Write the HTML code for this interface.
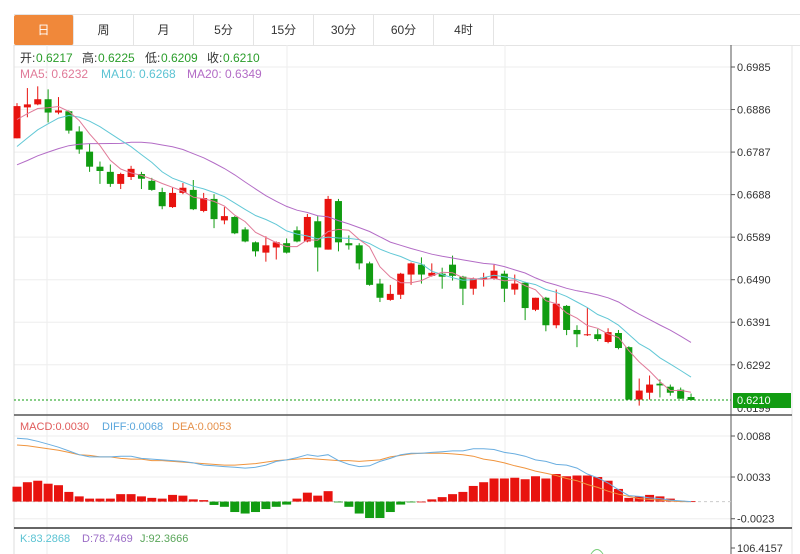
<!DOCTYPE html>
<html><head><meta charset="utf-8">
<style>
body{margin:0;background:#fff;width:800px;height:554px;overflow:hidden;font-family:"Liberation Sans","Noto Sans CJK SC",sans-serif;}
#wrap{position:relative;width:800px;height:554px;}
.tabs{position:absolute;left:14px;top:14px;height:30px;width:786px;border-top:1px solid #e4e4e4;border-bottom:1px solid #e4e4e4;}
.tab{position:absolute;top:0;height:30px;width:60px;line-height:30px;text-align:center;font-size:12px;color:#333;border-right:1px solid #e4e4e4;box-sizing:border-box;}
.tab.active{background:#f0883a;color:#fff;border-radius:2px;}
</style></head><body>
<div id="wrap">
<div class="tabs">
<div class="tab active" style="left:0">日</div>
<div class="tab" style="left:60px">周</div>
<div class="tab" style="left:120px">月</div>
<div class="tab" style="left:180px">5分</div>
<div class="tab" style="left:240px">15分</div>
<div class="tab" style="left:300px">30分</div>
<div class="tab" style="left:360px">60分</div>
<div class="tab" style="left:420px">4时</div>
</div>
<svg id="chart" width="800" height="554" style="position:absolute;left:0;top:0"></svg>
</div>
<script>
const opens=[0.6819,0.6891,0.6898,0.6910,0.6879,0.6882,0.6835,0.6788,0.6753,0.6741,0.6713,0.6729,0.6736,0.6720,0.6694,0.6659,0.6692,0.6699,0.6650,0.6678,0.6628,0.6636,0.6607,0.6577,0.6553,0.6565,0.6575,0.6605,0.6579,0.6626,0.6560,0.6673,0.6575,0.6570,0.6528,0.6481,0.6443,0.6455,0.6502,0.6525,0.6499,0.6504,0.6525,0.6497,0.6469,0.6492,0.6492,0.6504,0.6467,0.6483,0.6420,0.6448,0.6384,0.6429,0.6373,0.6361,0.6363,0.6345,0.6366,0.6333,0.6211,0.6227,0.6248,0.6241,0.6234,0.6217];
const highs=[0.6901,0.6936,0.6940,0.6933,0.6915,0.6884,0.6847,0.6807,0.6765,0.6758,0.6739,0.6755,0.6741,0.6727,0.6704,0.6704,0.6715,0.6722,0.6692,0.6689,0.6659,0.6638,0.6612,0.6579,0.6591,0.6579,0.6586,0.6614,0.6643,0.6638,0.6685,0.6678,0.6593,0.6575,0.6532,0.6492,0.6478,0.6506,0.6530,0.6542,0.6528,0.6518,0.6546,0.6499,0.6495,0.6506,0.6525,0.6511,0.6502,0.6485,0.6448,0.6450,0.6467,0.6431,0.6384,0.6424,0.6375,0.6377,0.6373,0.6335,0.6260,0.6267,0.6258,0.6246,0.6239,0.6225];
const lows=[0.6819,0.6868,0.6896,0.6856,0.6875,0.6830,0.6783,0.6741,0.6713,0.6706,0.6701,0.6722,0.6701,0.6697,0.6654,0.6657,0.6689,0.6652,0.6647,0.6610,0.6619,0.6596,0.6577,0.6544,0.6532,0.6537,0.6551,0.6577,0.6577,0.6509,0.6560,0.6556,0.6560,0.6514,0.6476,0.6438,0.6441,0.6445,0.6478,0.6481,0.6497,0.6469,0.6488,0.6431,0.6455,0.6474,0.6490,0.6438,0.6455,0.6396,0.6417,0.6370,0.6377,0.6361,0.6333,0.6359,0.6347,0.6342,0.6328,0.6211,0.6197,0.6211,0.6216,0.6220,0.6213,0.6209];
const closes=[0.6894,0.6898,0.6910,0.6879,0.6884,0.6837,0.6793,0.6753,0.6743,0.6713,0.6736,0.6748,0.6725,0.6699,0.6661,0.6692,0.6704,0.6654,0.6680,0.6631,0.6638,0.6598,0.6579,0.6556,0.6570,0.6577,0.6553,0.6579,0.6636,0.6565,0.6678,0.6577,0.6570,0.6528,0.6478,0.6448,0.6457,0.6504,0.6528,0.6502,0.6506,0.6497,0.6499,0.6469,0.6492,0.6495,0.6511,0.6469,0.6481,0.6424,0.6448,0.6384,0.6434,0.6373,0.6363,0.6363,0.6352,0.6368,0.6331,0.6211,0.6232,0.6246,0.6244,0.6227,0.6213,0.6210];
const prevCloses=[0.6700,0.6690,0.6710,0.6720,0.6700,0.6730,0.6720,0.6740,0.6710,0.6730,0.6700,0.6720,0.6740,0.6750,0.6776,0.6830,0.6850,0.6870,0.6870];
const macdHist=[0.0020,0.0026,0.0028,0.0024,0.0022,0.0013,0.0007,0.0004,0.0004,0.0004,0.0010,0.0010,0.0007,0.0005,0.0004,0.0009,0.0008,0.0003,0.0002,-0.00045,-0.0007,-0.0014,-0.0016,-0.0014,-0.0010,-0.0007,-0.0004,0.0004,0.0012,0.0008,0.0014,-0.0001,-0.0007,-0.0016,-0.0022,-0.0022,-0.0014,-0.0004,-0.0001,0.0000,0.0003,0.0006,0.0010,0.0013,0.0021,0.0026,0.0031,0.0031,0.0032,0.0030,0.0034,0.0031,0.0037,0.0034,0.0035,0.0035,0.0033,0.0028,0.0017,0.0005,0.0007,0.0009,0.0007,0.0004,0.0001,0.00005];
const diffVals=[85,84,81,77,73,68,63,60,60,60,61,61,58,57,56,55,54,52,49,48,47,46,45,46,49,54,56,59,63,61,63,55,50,47,48,54,58,63,65,65,66,67,68,68,71,71,70,66,64,61,56,54,50,49,45,37,32,25,16,8,7,5,4,2,1,0];
const deaVals=[76,75,73,71,69,66,63,62,60,60,58,57,57,55,55,54,53,52,51,50,49,49,50,51,53,55,56,57,58,57,56,55,55,54,55,56,60,62,64,65,65,65,64,63,61,57,55,52,48,45,41,38,35,31,28,23,19,14,10,7,4,3,2,1,0,0];
const priceTicks=[0.6985,0.6886,0.6787,0.6688,0.6589,0.6490,0.6391,0.6292];
const macdTicks=[0.0088,0.0033,-0.0023];
const lastPrice=0.6210;

const svg=document.getElementById('chart');
const NS='http://www.w3.org/2000/svg';
function mk(tag,attrs,name,inter){const e=document.createElementNS(NS,tag);for(const k in attrs)e.setAttribute(k,attrs[k]);


svg.appendChild(e);return e;}
function txt(x,y,s,fill,name,size,anchor){const t=mk('text',{x:x,y:y,fill:fill,'font-size':size||12,'font-family':'"Liberation Sans","Noto Sans CJK SC",sans-serif','text-anchor':anchor||'start'},name,false);t.textContent=s;return t;}
const L=14,R=731;
const xAt=i=>17+i*10.37;
const yP=v=>67+(0.6985-v)*4297;
const yM=v=>501.6-v*7455;
const yD=v=>501.6-v*0.745;

// grid
priceTicks.forEach(t=>{mk('line',{x1:L,x2:R,y1:yP(t),y2:yP(t),stroke:'#eeeeee'},'price-gridline',false);});
macdTicks.forEach(t=>{mk('line',{x1:L,x2:R,y1:yM(t),y2:yM(t),stroke:'#eeeeee'},'macd-gridline',false);});
[47,287,505].forEach(x=>{mk('line',{x1:x,x2:x,y1:45,y2:554,stroke:'#eeeeee'},'vertical-gridline',false);});
mk('line',{x1:L,x2:L,y1:45,y2:554,stroke:'#dddddd'},'left-border',false);
mk('line',{x1:R,x2:R,y1:45,y2:554,stroke:'#555'},'right-axis-line',false);
mk('line',{x1:792,x2:792,y1:45,y2:554,stroke:'#e4e4e4'},'right-border',false);
mk('line',{x1:L,x2:792,y1:415,y2:415,stroke:'#555','stroke-width':1.5},'macd-separator',false);
mk('line',{x1:L,x2:792,y1:528,y2:528,stroke:'#333','stroke-width':1.5},'kdj-separator',false);

// MAs
const all=prevCloses.concat(closes);
function ma(n){return closes.map((c,i)=>{const j=i+prevCloses.length;let s=0;for(let k=j-n+1;k<=j;k++)s+=all[k];return s/n;});}
function pline(vals,fy,color,name){const d=vals.map((v,i)=>(i?'L':'M')+xAt(i).toFixed(1)+' '+fy(v).toFixed(1)).join(' ');mk('path',{d:d,fill:'none',stroke:color,'stroke-width':1},name,false);}

// candles
closes.forEach((c,i)=>{const o=opens[i];const up=c>=o;const col=up?'#e8130f':'#119c11';const x=xAt(i);
mk('line',{x1:x,x2:x,y1:yP(highs[i]),y2:yP(lows[i]),stroke:col},'candle-wick',false);
const top=yP(Math.max(o,c)),bot=yP(Math.min(o,c));
mk('rect',{x:x-3.5,y:top,width:7,height:Math.max(1,bot-top),fill:col},'candle-body',true);});
pline(ma(20),yP,'#b36cc6','ma20-line');
pline(ma(10),yP,'#62c8d6','ma10-line');
pline(ma(5),yP,'#e07a98','ma5-line');

// last price
mk('line',{x1:L,x2:R,y1:yP(lastPrice),y2:yP(lastPrice),stroke:'#119c11','stroke-dasharray':'2,2'},'last-price-line',false);

// price ticks
priceTicks.forEach(t=>{mk('line',{x1:R,x2:R+4,y1:yP(t),y2:yP(t),stroke:'#555'},'price-tick',false);txt(737,yP(t)+4,t.toFixed(4),'#333','price-tick-label',11);});
txt(737,yP(lastPrice)+12,'0.6199','#333','hidden-price-label',11);
mk('rect',{x:733,y:yP(lastPrice)-7,width:58,height:15,fill:'#119c11'},'last-price-tag',false);
txt(737,yP(lastPrice)+4,lastPrice.toFixed(4),'#fff','last-price-label',11);

// MACD
mk('line',{x1:L,x2:R,y1:yM(0),y2:yM(0),stroke:'#ccc','stroke-dasharray':'3,3'},'macd-zero-line',false);
macdHist.forEach((v,i)=>{const x=xAt(i);const y0=yM(0),y1=yM(v);
mk('rect',{x:x-4.5,y:Math.min(y0,y1),width:9,height:Math.max(0.8,Math.abs(y1-y0)),fill:v>=0?'#e8130f':'#119c11'},'macd-bar',false);});
pline(deaVals,yD,'#f0953f','dea-line');
pline(diffVals,yD,'#6aaee0','diff-line');
macdTicks.forEach(t=>{mk('line',{x1:R,x2:R+4,y1:yM(t),y2:yM(t),stroke:'#555'},'macd-tick',false);txt(737,yM(t)+4,t.toFixed(4),'#333','macd-tick-label',11);});

// legends
txt(20,62,'开:','#333','open-label',12);txt(36,62,'0.6217','#2a9d2a','open-value',12);
txt(82,62,'高:','#333','high-label',12);txt(98,62,'0.6225','#2a9d2a','high-value',12);
txt(145,62,'低:','#333','low-label',12);txt(161,62,'0.6209','#2a9d2a','low-value',12);
txt(207,62,'收:','#333','close-label',12);txt(223,62,'0.6210','#2a9d2a','close-value',12);
txt(20,78,'MA5: 0.6232','#e07a98','ma5-legend',12);
txt(101,78,'MA10: 0.6268','#5bc3d3','ma10-legend',12);
txt(187,78,'MA20: 0.6349','#b36cc6','ma20-legend',12);
txt(20,430,'MACD:0.0030','#e05a5a','macd-legend',11);
txt(102,430,'DIFF:0.0068','#5aa6dc','diff-legend',11);
txt(172,430,'DEA:0.0053','#e5904a','dea-legend',11);
txt(20,542,'K:83.2868','#5bc3d3','k-legend',11);
txt(82,542,'D:78.7469','#9b6cc6','d-legend',11);
txt(140,542,'J:92.3666','#5aa65a','j-legend',11);
mk('line',{x1:R,x2:R+4,y1:548,y2:548,stroke:'#555'},'kdj-tick',false);
txt(737,552,'106.4157','#333','kdj-tick-label',11);
mk('path',{d:'M591 554 Q597 545 603 554',fill:'none',stroke:'#7c7','stroke-width':1},'kdj-j-line',false);
</script>
</body></html>
